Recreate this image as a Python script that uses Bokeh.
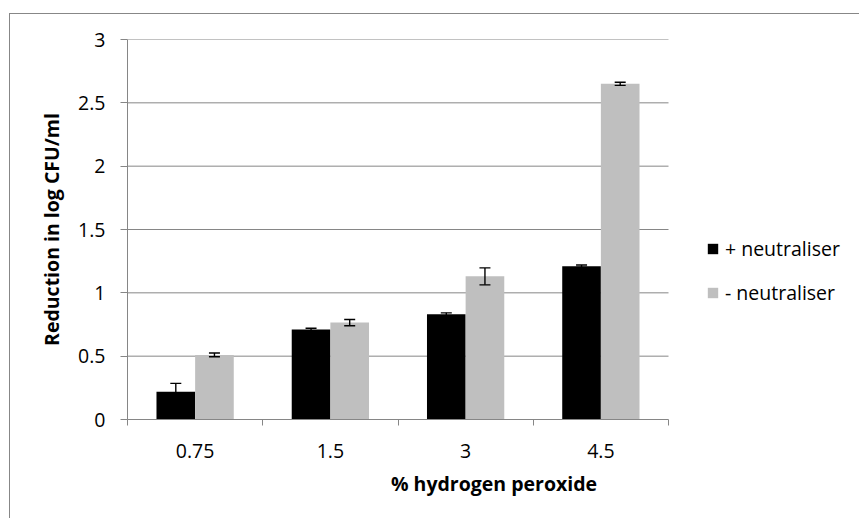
from bokeh.plotting import figure
from bokeh.models import (Range1d, FixedTicker, Whisker, TeeHead, ColumnDataSource,
                          Legend, LegendItem)
from bokeh.embed import file_html
from bokeh.resources import INLINE

categories = ["0.75", "1.5", "3", "4.5"]
plus_vals = [0.22, 0.71, 0.83, 1.21]
plus_err = [0.065, 0.01, 0.012, 0.01]
minus_vals = [0.51, 0.765, 1.13, 2.65]
minus_err = [0.015, 0.025, 0.067, 0.012]
y_ticks = [0, 0.5, 1, 1.5, 2, 2.5, 3]
series_names = ["+ neutraliser", "- neutraliser"]
series_colors = ["#000000", "#BFBFBF"]

FONT = "Open Sans"
FS = "19.5px"
GRAY = "#868686"

W, H = 850, 505
LEFT, TOP, BOTTOM = 117, 25, 100
PLOT_W = 541  # width of the category area in pixels
n = len(categories)
frame_w = W - LEFT
x_end = n * frame_w / PLOT_W  # extra room on the right holds the legend

idx = list(range(n))
bar_w = 1 / 3.5
x_plus = [i + 0.5 - bar_w / 2 for i in idx]
x_minus = [i + 0.5 + bar_w / 2 for i in idx]

src_plus = ColumnDataSource(dict(
    x=x_plus, top=plus_vals,
    upper=[v + e for v, e in zip(plus_vals, plus_err)],
    lower=[v - e for v, e in zip(plus_vals, plus_err)]))
src_minus = ColumnDataSource(dict(
    x=x_minus, top=minus_vals,
    upper=[v + e for v, e in zip(minus_vals, minus_err)],
    lower=[v - e for v, e in zip(minus_vals, minus_err)]))

p = figure(width=W, height=H, output_backend="svg", toolbar_location=None,
           x_range=Range1d(0, x_end), y_range=Range1d(0, 3),
           min_border_left=LEFT, min_border_right=0, min_border_top=TOP,
           min_border_bottom=BOTTOM)
p.styles = {"margin-left": "9px", "margin-top": "13px",
            "border-left": "1px solid #878787", "border-top": "1px solid #878787"}
p.outline_line_color = None
p.background_fill_color = "white"
p.border_fill_color = "white"

# horizontal gridlines over the category area only
p.xgrid.visible = False
p.ygrid.visible = False
grid_y = [v for v in y_ticks if v > 0]
p.segment(x0=[0] * len(grid_y), x1=[n] * len(grid_y), y0=grid_y, y1=grid_y,
          line_color=GRAY, line_width=1, level="underlay")

r1 = p.vbar(x="x", top="top", width=bar_w, source=src_plus,
            fill_color=series_colors[0], line_color=None)
r2 = p.vbar(x="x", top="top", width=bar_w, source=src_minus,
            fill_color=series_colors[1], line_color=None)

for src in (src_plus, src_minus):
    w = Whisker(source=src, base="x", upper="upper", lower="lower",
                line_color="black", line_width=1.4, level="annotation",
                upper_head=TeeHead(size=11, line_color="black", line_width=1.4),
                lower_head=TeeHead(size=11, line_color="black", line_width=1.4))
    p.add_layout(w)

# x axis
p.xaxis.bounds = (0, n)
p.xaxis.ticker = FixedTicker(ticks=[i + 0.5 for i in idx],
                             minor_ticks=list(range(n + 1)))
p.xaxis.major_label_overrides = {i + 0.5: c for i, c in zip(idx, categories)}
p.xaxis.major_tick_out = 0
p.xaxis.major_tick_in = 0
p.xaxis.minor_tick_out = 6
p.xaxis.minor_tick_in = 0
p.xaxis.minor_tick_line_color = GRAY
p.xaxis.axis_line_color = GRAY
p.xaxis.major_label_standoff = 18
p.xaxis.axis_label = "% hydrogen peroxide"
p.xaxis.axis_label_standoff = 9

# y axis
p.yaxis.ticker = FixedTicker(ticks=y_ticks)
p.yaxis.major_label_overrides = {float(v): f"{v:g}" for v in y_ticks}
p.yaxis.major_tick_out = 7
p.yaxis.major_tick_in = 0
p.yaxis.minor_tick_line_color = None
p.yaxis.major_tick_line_color = GRAY
p.yaxis.axis_line_color = GRAY
p.yaxis.major_label_standoff = 15
p.yaxis.axis_label = "Reduction in log CFU/ml"
p.yaxis.axis_label_standoff = 10

for ax in (p.xaxis[0], p.yaxis[0]):
    ax.major_label_text_font = FONT
    ax.major_label_text_font_size = FS
    ax.major_label_text_color = "black"
    ax.axis_label_text_font = FONT
    ax.axis_label_text_font_size = FS
    ax.axis_label_text_font_style = "bold"
    ax.axis_label_text_color = "black"

legend = Legend(items=[LegendItem(label=series_names[0], renderers=[r1]),
                       LegendItem(label=series_names[1], renderers=[r2])],
                location=(579, 113), orientation="vertical",
                glyph_width=13, glyph_height=13, label_standoff=6,
                label_height=20, spacing=17, padding=0, margin=0,
                border_line_color=None, background_fill_alpha=0,
                label_text_font=FONT, label_text_font_size=FS,
                label_text_color="black")
p.add_layout(legend)

open("out.html", "w").write(file_html(p, INLINE))
